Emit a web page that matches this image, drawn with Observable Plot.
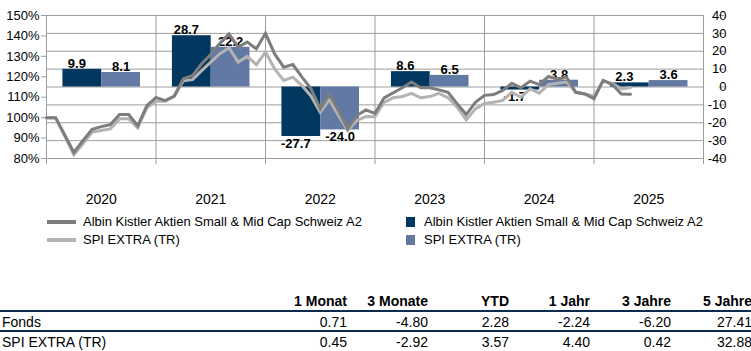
<!DOCTYPE html>
<html>
<head>
<meta charset="utf-8">
<script src="https://cdn.jsdelivr.net/npm/d3@7"></script>
<script src="https://cdn.jsdelivr.net/npm/@observablehq/plot@0.6"></script>
<style>
  html, body { margin: 0; padding: 0; background: #fff; }
  #wrap { position: relative; width: 751px; height: 351px; overflow: hidden; font-family: "Liberation Sans", Arial, sans-serif; color: #000; }
  #chart { position: absolute; left: 0; top: 0; }
  .leg { position: absolute; font-size: 13px; line-height: 16px; white-space: nowrap; }
  .sw { position: absolute; }
  .cell { position: absolute; font-size: 14px; line-height: 16px; white-space: nowrap; text-align: right; }
  .hdr { font-weight: bold; }
  .rule { position: absolute; left: 0; width: 751px; background: #0b2c4e; }
</style>
</head>
<body>
<div id="wrap"><div id="chart"></div></div>
<script>
// ---- data ----
const years = [2020, 2021, 2022, 2023, 2024, 2025];
const fundAnnual = [9.9, 28.7, -27.7, 8.6, -1.7, 2.3];
const benchAnnual = [8.1, 22.2, -24.0, 6.5, 3.8, 3.6];
// monthly indexed performance (%), month 0 = end of 2019
const fundIndex = [100,100,91.5,83,88.8,94.3,95.6,96.6,101.5,101.5,96,105.9,109.9,
  108.3,110.6,119,120.6,126.4,130.9,136.4,141,134.5,137,133.7,141.3,
  131.2,124.7,126,119.8,114.1,104.3,111.3,103.5,94.5,101,103.8,102.1,
  109.7,112.2,114.6,117.4,114.6,114.6,113.6,112.4,106.8,101.5,107.5,110.9,
  111.3,113.3,116.8,114.6,117.9,116.2,120.2,118.8,119.8,112.4,111.6,109.3,
  118.2,116.2,111.6,111.5];
const benchIndex = [100,99.8,91,81.8,87.2,92.9,93.7,94.5,99.4,99.4,95,104.8,108.1,
  108,110.3,118,118.6,123,127.2,131.3,134.2,127.2,130,125.9,132.1,
  123.9,118.2,119.8,115.7,110.5,102.6,108.8,101,93.7,98.6,100.5,100.4,
  107.5,109.7,110.3,111.9,109.7,110.3,111.9,109.7,105.1,98.9,104.3,106.9,
  107.5,108.4,112.4,110,114.1,112,116.2,116.8,117.4,112.4,111.6,110.6,
  117.9,116.8,114.1,114.8];
const leftTicks = [80, 90, 100, 110, 120, 130, 140, 150];
const rightTicks = [-40, -30, -20, -10, 0, 10, 20, 30, 40];
const seriesNames = ["Albin Kistler Aktien Small & Mid Cap Schweiz A2", "SPI EXTRA (TR)"];
const tableCols = ["1 Monat", "3 Monate", "YTD", "1 Jahr", "3 Jahre", "5 Jahre"];
const tableRows = ["Fonds", "SPI EXTRA (TR)"];
const fundPerf = [0.71, -4.80, 2.28, -2.24, -6.20, 27.41];
const benchPerf = [0.45, -2.92, 3.57, 4.40, 0.42, 32.88];

// ---- styling ----
const C = { fundBar: "#02375f", benchBar: "#6279a3", fundLine: "#7d7d7d", benchLine: "#b3b3b3", grid: "#9d9d9d" };
const MPY = 12; // months per year band
// left (%) axis mapped onto right (-40..40) scale: 80..150 -> -40..40
const toY = p => (p - 115) * 80 / 70;
const fromY = v => Math.round(v * 70 / 80 + 115);

const fundBars = years.map((y, k) => ({k, v: fundAnnual[k]}));
const benchBars = years.map((y, k) => ({k, v: benchAnnual[k]}));
const fundLine = fundIndex.map((v, i) => ({i, v: toY(v)}));
const benchLine = benchIndex.map((v, i) => ({i, v: toY(v)}));
const bounds = d3.range(0, years.length + 1).map(k => k * MPY);
const fmt = v => v.toFixed(1);

const chart = Plot.plot({
  width: 751,
  height: 210,
  marginLeft: 46,
  marginRight: 48,
  marginTop: 15,
  marginBottom: 52,
  style: { fontFamily: "Liberation Sans, Arial, sans-serif", background: "transparent", overflow: "visible" },
  x: { type: "linear", domain: [0, years.length * MPY], axis: null },
  y: { type: "linear", domain: [-40, 40], axis: null },
  marks: [
    Plot.ruleY(rightTicks, { stroke: C.grid, strokeWidth: 1 }),
    Plot.ruleX(bounds, { stroke: C.grid, strokeWidth: 1, insetBottom: -6 }),
    Plot.axisY({ anchor: "left", label: null, ticks: leftTicks.map(toY), tickFormat: d => fromY(d) + "%", tickSize: 5, tickPadding: 2, fontSize: 13, stroke: C.grid, fill: "#000" }),
    Plot.axisY({ anchor: "right", label: null, ticks: rightTicks, tickFormat: d => String(d), tickSize: 5, tickPadding: 3, textAnchor: "end", dx: 15, fontSize: 13, stroke: C.grid, fill: "#000" }),
    Plot.rect(fundBars, { x1: d => d.k * MPY + 1.8, x2: d => d.k * MPY + 6.05, y1: 0, y2: "v", fill: C.fundBar }),
    Plot.rect(benchBars, { x1: d => d.k * MPY + 6.05, x2: d => d.k * MPY + 10.3, y1: 0, y2: "v", fill: C.benchBar }),
    Plot.text(fundBars.filter(d => d.v >= 0), { x: d => d.k * MPY + 3.925, y: "v", text: d => fmt(d.v), lineAnchor: "bottom", dy: -1.5, dx: -5.5, fontSize: 13, fontWeight: "bold", fill: "#000" }),
    Plot.text(fundBars.filter(d => d.v < 0), { x: d => d.k * MPY + 3.925, y: "v", text: d => fmt(d.v), lineAnchor: "top", dy: 2, dx: -5.5, fontSize: 13, fontWeight: "bold", fill: "#000" }),
    Plot.text(benchBars.filter(d => d.v >= 0), { x: d => d.k * MPY + 8.175, y: "v", text: d => fmt(d.v), lineAnchor: "bottom", dy: -1.5, fontSize: 13, fontWeight: "bold", fill: "#000" }),
    Plot.text(benchBars.filter(d => d.v < 0), { x: d => d.k * MPY + 8.175, y: "v", text: d => fmt(d.v), lineAnchor: "top", dy: 2, fontSize: 13, fontWeight: "bold", fill: "#000" }),
    Plot.line(benchLine, { x: "i", y: "v", stroke: C.benchLine, strokeWidth: 3, strokeLinejoin: "miter", strokeMiterlimit: 3 }),
    Plot.line(fundLine, { x: "i", y: "v", stroke: C.fundLine, strokeWidth: 3, strokeLinejoin: "miter", strokeMiterlimit: 3 }),
    Plot.text(years, { x: (d, k) => k * MPY + MPY / 2, frameAnchor: "bottom", text: d => String(d), lineAnchor: "middle", dy: 41, fontSize: 14, fill: "#000" })
  ]
});
document.getElementById("chart").appendChild(chart);

const wrap = document.getElementById("wrap");
function add(cls, styles, text) {
  const el = document.createElement("div");
  el.className = cls;
  Object.assign(el.style, styles);
  if (text != null) el.textContent = text;
  wrap.appendChild(el);
  return el;
}
// ---- legend ----
const lineCols = [C.fundLine, C.benchLine];
const barCols = [C.fundBar, C.benchBar];
const legTops = [214, 231.5];
seriesNames.forEach((name, i) => {
  add("sw", { left: "47px", top: (legTops[i] + 6) + "px", width: "29px", height: "4px", background: lineCols[i] });
  add("leg", { left: "83px", top: legTops[i] + "px" }, name);
  add("sw", { left: "406px", top: (legTops[i] + 3) + "px", width: "9px", height: "10px", background: barCols[i] });
  add("leg", { left: "424px", top: legTops[i] + "px" }, name);
});
// ---- table ----
const colRight = [347, 428, 509, 590, 671, 752];
tableCols.forEach((c, j) => add("cell hdr", { right: (751 - colRight[j]) + "px", top: "293px" }, c));
add("rule", { top: "310px", height: "2px" });
const rowTops = [314, 334];
[fundPerf, benchPerf].forEach((vals, r) => {
  add("cell", { left: "2px", top: rowTops[r] + "px", textAlign: "left" }, tableRows[r]);
  vals.forEach((v, j) => add("cell", { right: (751 - colRight[j]) + "px", top: rowTops[r] + "px" }, v.toFixed(2)));
});
add("rule", { top: "330px", height: "1.5px" });
</script>
</body>
</html>
